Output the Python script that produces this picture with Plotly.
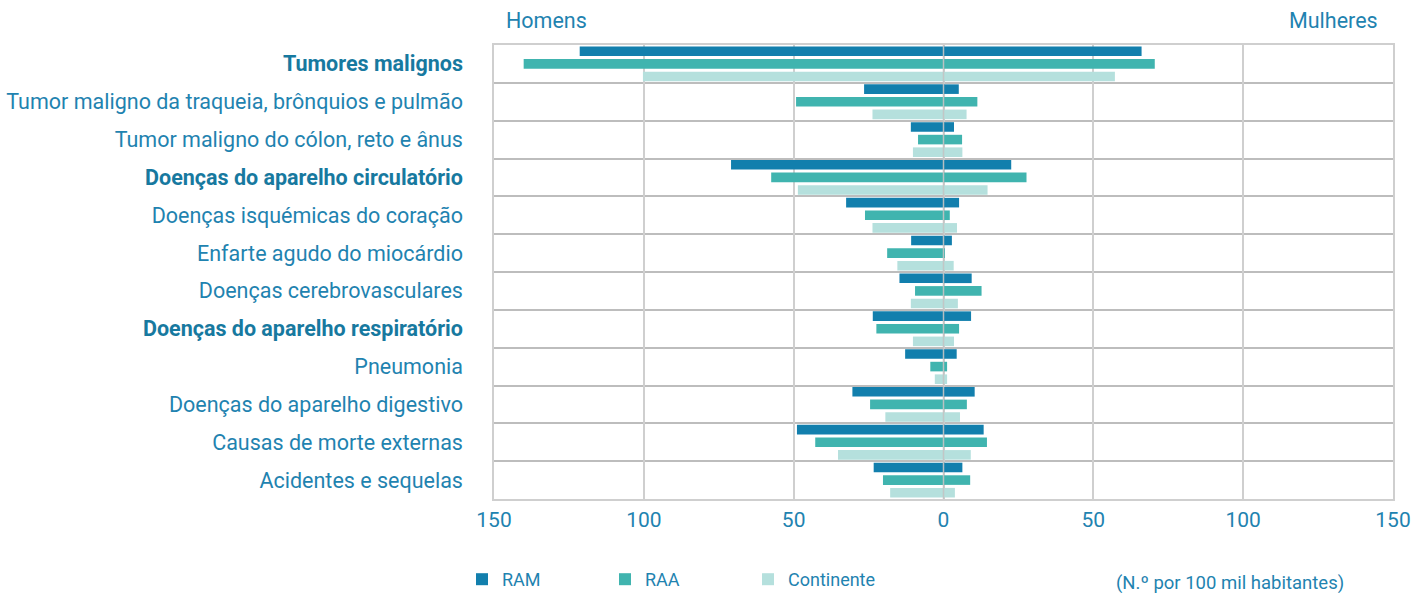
import plotly.graph_objects as go

categories = [
    "Tumores malignos",
    "Tumor maligno da traqueia, brônquios e pulmão",
    "Tumor maligno do cólon, reto e ânus",
    "Doenças do aparelho circulatório",
    "Doenças isquémicas do coração",
    "Enfarte agudo do miocárdio",
    "Doenças cerebrovasculares",
    "Doenças do aparelho respiratório",
    "Pneumonia",
    "Doenças do aparelho digestivo",
    "Causas de morte externas",
    "Acidentes e sequelas",
]
bold_categories = {"Tumores malignos", "Doenças do aparelho circulatório",
                   "Doenças do aparelho respiratório"}

series_names = ["RAM", "RAA", "Continente"]
homens_ram = [121.4, 26.5, 10.9, 70.9, 32.5, 10.8, 14.7, 23.6, 12.8, 30.4, 48.9, 23.3]
homens_raa = [140.1, 49.2, 8.5, 57.5, 26.2, 18.8, 9.5, 22.4, 4.4, 24.5, 42.8, 20.2]
homens_cont = [100.3, 23.7, 10.2, 48.6, 23.7, 15.4, 10.9, 10.2, 2.9, 19.4, 35.2, 17.8]
mulheres_ram = [66.1, 5.1, 3.5, 22.6, 5.2, 2.8, 9.4, 9.2, 4.4, 10.4, 13.4, 6.3]
mulheres_raa = [70.5, 11.3, 6.2, 27.7, 2.1, 0.3, 12.7, 5.2, 1.2, 7.8, 14.5, 8.9]
mulheres_cont = [57.2, 7.7, 6.3, 14.7, 4.5, 3.4, 4.8, 3.5, 1.2, 5.5, 9.1, 3.8]

tick_values = [-150, -100, -50, 0, 50, 100, 150]
tick_labels = [str(abs(v)) for v in tick_values]

colors = ["#127fad", "#40b4af", "#b5e0dd"]
text_color = "#1f83b0"
bold_color = "#17799f"

homens = [homens_ram, homens_raa, homens_cont]
mulheres = [mulheres_ram, mulheres_raa, mulheres_cont]

positions = list(range(len(categories)))

fig = go.Figure()
for name, h, m, c in zip(series_names, homens, mulheres, colors):
    fig.add_trace(go.Bar(
        name=name,
        orientation="h",
        y=positions + positions,
        x=[-v for v in h] + list(m),
        marker=dict(color=c, line=dict(width=0)),
        hovertemplate="%{x}<extra>" + name + "</extra>",
    ))

ticktext = [f"<b><span style='color:{bold_color}'>{c}</span></b>" if c in bold_categories else c
            for c in categories]

fig.update_layout(
    width=1427, height=593,
    margin=dict(l=494, r=34, t=45, b=94),
    paper_bgcolor="white", plot_bgcolor="white",
    barmode="group", bargap=0.0, bargroupgap=0.24,
    font=dict(family="Roboto", color=text_color, size=18),
    showlegend=True,
    legend=dict(orientation="h", xref="container", yref="container",
                x=462 / 1427, xanchor="left",
                y=(593 - 561) / 593, yanchor="top",
                font=dict(size=18, color=text_color),
                entrywidth=98, traceorder="normal",
                itemwidth=30),
    xaxis=dict(range=[-150, 150], tickvals=tick_values, ticktext=tick_labels,
               showgrid=True, gridcolor="#cfcfcf", gridwidth=1.5,
               zeroline=False, automargin=False,
               showline=True, linecolor="#cfcfcf", linewidth=1.5, mirror=True,
               tickfont=dict(size=21, color=text_color),
               ticks="", ticklabelstandoff=1, fixedrange=True),
    yaxis=dict(range=[11.5, -0.5], tickvals=positions, ticktext=ticktext,
               showgrid=False, zeroline=False, automargin=False,
               showline=True, linecolor="#cfcfcf", linewidth=1.5, mirror=True,
               tickfont=dict(size=21.5, color=text_color),
               ticks="", ticklabelstandoff=25,
               minor=dict(tick0=0.5, dtick=1, showgrid=True,
                          gridcolor="#bdbdbd", gridwidth=1.5),
               fixedrange=True),
)

# zero reference line drawn over the bars
fig.add_shape(type="line", xref="x", yref="paper", x0=0, x1=0, y0=0, y1=1,
              line=dict(color="rgba(195,195,195,0.9)", width=1.5), layer="above")

fig.add_annotation(text="Homens", xref="paper", yref="paper", x=0.0145, y=1.0,
                   xanchor="left", yanchor="middle", yshift=25, xshift=-3,
                   showarrow=False, font=dict(size=21.5, color=text_color))
fig.add_annotation(text="Mulheres", xref="paper", yref="paper", x=0.982, y=1.0,
                   xanchor="right", yanchor="middle", yshift=25, xshift=3,
                   showarrow=False, font=dict(size=21.5, color=text_color))
fig.add_annotation(text="(N.º por 100 mil habitantes)", xref="paper", yref="paper",
                   x=0.948, y=0, xanchor="right", yanchor="middle", yshift=-84,
                   showarrow=False, font=dict(size=18.5, color=text_color))

fig.write_html("out.html", config={"displayModeBar": False},
               post_script="document.body.style.margin='0px';")
